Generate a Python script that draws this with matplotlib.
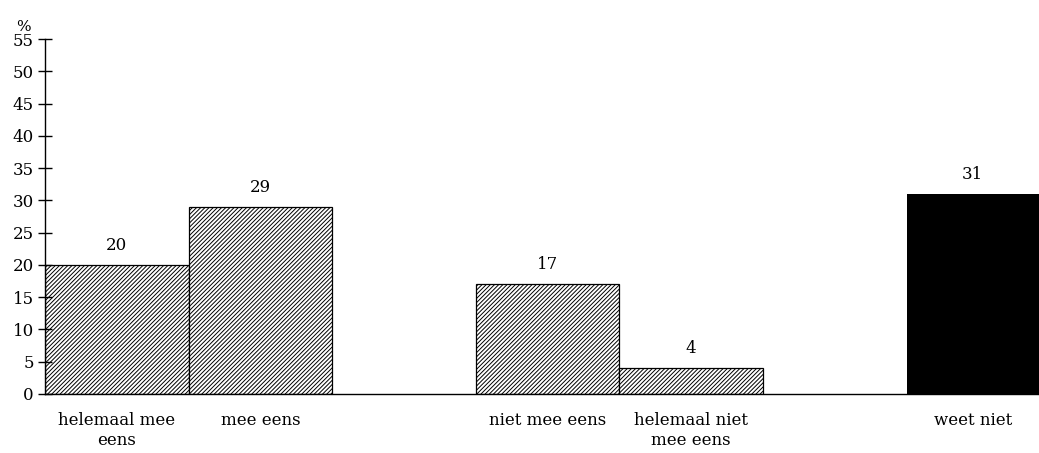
import matplotlib.pyplot as plt

categories = ["helemaal mee\neens", "mee eens", "niet mee eens",
              "helemaal niet\nmee eens", "weet niet"]
values = [20, 29, 17, 4, 31]
slots = [0, 1, 3, 4, 6]
hatched = [True, True, True, True, False]
yticks = list(range(0, 60, 5))

plt.rcParams.update({
    "font.family": ["DejaVu Serif"],
    "font.size": 12,
    "hatch.linewidth": 0.7,
    "hatch.color": "#333333",
})

fig = plt.figure(figsize=(10.39, 4.53), dpi=100)
ax = fig.add_axes([45 / 1039, 59 / 453, 1 - 45 / 1039, 355 / 453])

xmax = 994 / 143.6
for s, v, h in zip(slots, values, hatched):
    if h:
        ax.bar(s, v, width=1, align="edge", facecolor="white",
               edgecolor="black", hatch="////////", linewidth=0.9)
    else:
        ax.bar(s, v, width=1, align="edge", color="black", linewidth=0)
    cx = s + 0.5 if s + 1 <= xmax else (s + xmax) / 2
    ax.annotate(str(v), (cx, v), xytext=(0, 8), textcoords="offset points",
                ha="center", va="bottom")

centers = [s + 0.5 if s + 1 <= xmax else (s + xmax) / 2 for s in slots]
ax.set_xticks(centers)
ax.set_xticklabels(categories, linespacing=1.25)
ax.tick_params(axis="x", length=0, pad=13)

ax.set_xlim(0, xmax)
ax.set_ylim(0, 55)
ax.set_yticks(yticks)
ax.tick_params(axis="y", direction="inout", length=10, width=1, pad=3)
for sp in ["top", "right"]:
    ax.spines[sp].set_visible(False)
ax.spines["left"].set_linewidth(1)
ax.spines["bottom"].set_linewidth(1)

ax.text(-0.022, 1.015, "%", transform=ax.transAxes, ha="center",
        va="bottom", fontsize=11)

fig.savefig("out.png", dpi=100)
